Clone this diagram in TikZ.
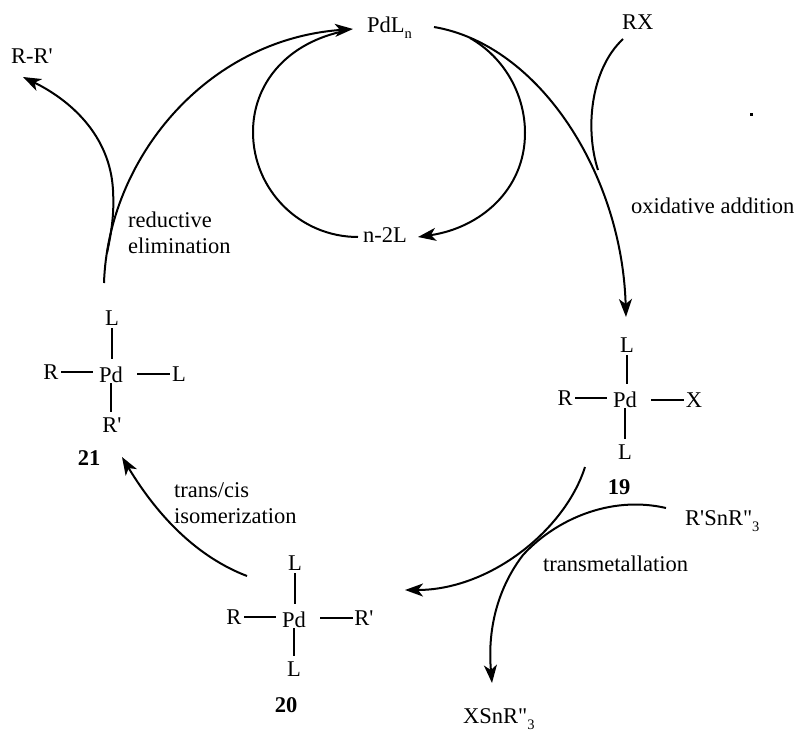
\documentclass[tikz,border=0pt]{standalone}
\usepackage{fontspec}
\setmainfont{Liberation Serif}[Ligatures=TeXOff]
\usetikzlibrary{arrows.meta}
\tikzset{
 lbl/.style={inner sep=0pt,font=\fontsize{22.5}{24}\selectfont,anchor=center},
 txt/.style={lbl,anchor=base west},
 num/.style={lbl,font=\fontsize{22.5}{24}\selectfont\bfseries},
 bond/.style={line width=1.7pt},
 ubond/.style={bond,shorten <=2.5pt,shorten >=8pt},
 dbond/.style={bond,shorten >=5pt},
 lbond/.style={bond,shorten <=2.5pt,shorten >=6pt},
 rbond/.style={bond,shorten <=14pt,shorten >=1.5pt},
 curve/.style={line width=2pt},
 arr/.style={curve,-{Stealth[length=18pt,width=13pt,inset=5pt]}},
}
\newcommand{\subn}[1]{\raisebox{-6pt}{\fontsize{14.5}{14.5}\selectfont #1}}
\begin{document}
\begin{tikzpicture}[x=1pt,y=-1pt]
\useasboundingbox (0,0) rectangle (796,731);
% labels
\node[txt] (pd) at (367,32) {PdL\subn{n}};
\node[txt] (rx) at (622,29) {RX};
\node[txt] (rr) at (11,63) {R-R'};
\node[txt] (n2l) at (363,242) {n-2L};
\node[txt] (ox) at (631,213) {oxidative addition};
\node[txt] (re1) at (128,227) {reductive};
\node[txt] (re2) at (128,253) {elimination};
\node[txt] (tc1) at (174,497) {trans/cis};
\node[txt] (tc2) at (174,523) {isomerization};
\node[txt] (tm) at (543,571) {transmetallation};
\node[txt] (rsn) at (685,525) {R'SnR"\subn{3}};
\node[txt] (xsn) at (463,723) {XSnR"\subn{3}};
\node[fill=black,rectangle,inner sep=0pt,minimum size=3pt] (dot) at (751,114) {};
% complex 21
\node[lbl] (a) at (112,318) {L};
\node[lbl] (b) at (111,375) {Pd};
\node[lbl] (c) at (51,372) {R};
\node[lbl] (d) at (179,374) {L};
\node[lbl] (e) at (112,425) {R'};
\node[num] (n21) at (89,458) {21};
\draw[ubond] (a.south) -- (a.south |- b.north);
\draw[lbond] (c.east) -- (c.east -| b.west);
\draw[rbond] (d.west -| b.east) -- (d.west);
\draw[dbond] (b.south) -- (b.south |- e.north);
% complex 19
\node[lbl] (f) at (627,345) {L};
\node[lbl] (g) at (625,400) {Pd};
\node[lbl] (h) at (565,398) {R};
\node[lbl] (i) at (694,400) {X};
\node[lbl] (j) at (625,452) {L};
\node[num] (n19) at (619,487) {19};
\draw[ubond] (f.south) -- (f.south |- g.north);
\draw[lbond] (h.east) -- (h.east -| g.west);
\draw[rbond] (i.west -| g.east) -- (i.west);
\draw[dbond] (g.south) -- (g.south |- j.north);
% complex 20
\node[lbl] (k) at (295,563) {L};
\node[lbl] (l) at (294,620) {Pd};
\node[lbl] (m) at (234,617) {R};
\node[lbl] (o) at (364,618) {R'};
\node[lbl] (p) at (294,669) {L};
\node[num] (n20) at (286,705) {20};
\draw[ubond] (k.south) -- (k.south |- l.north);
\draw[lbond] (m.east) -- (m.east -| l.west);
\draw[rbond] (o.west -| l.east) -- (o.west);
\draw[dbond] (l.south) -- (l.south |- p.north);
% free ends
\coordinate (s1) at (434,27);
\coordinate (t1) at (626,317);
\coordinate (s2) at (104,283);
\coordinate (t2) at (353,29);
\coordinate (s3) at (585,467);
\coordinate (t3) at (405,590);
\coordinate (s4) at (247,576);
\coordinate (t4) at (122,457);
\coordinate (s5) at (340,32);
\coordinate (t5) at (358,237);
\coordinate (s6) at (470,38);
\coordinate (t6) at (418,237);
\coordinate (s7) at (623,39);
\coordinate (t7) at (598,170);
\coordinate (s8) at (107,253);
\coordinate (t8) at (23,77);
\coordinate (s9) at (666,508);
\coordinate (t9) at (492,683);
% cycle
\draw[arr] (s1) .. controls (540,45) and (622,175) .. (t1);
\draw[arr] (s2) .. controls (108,160) and (205,40) .. (t2);
\draw[arr] (s3) .. controls (565,530) and (490,590) .. (t3);
\draw[arr] (s4) .. controls (200,558) and (160,520) .. (t4);
% side arcs
\draw[curve] (s5) .. controls (285,45) and (253,85) .. (253,132) .. controls (253,190) and (300,237) .. (t5);
\draw[arr] (s6) .. controls (505,58) and (525,95) .. (525,133) .. controls (525,190) and (480,228) .. (t6);
\draw[curve] (s7) .. controls (590,70) and (585,130) .. (t7);
\draw[arr] (s8) .. controls (113,225) and (114,210) .. (113,190) .. controls (110,135) and (70,100) .. (t8);
\draw[arr] (s9) .. controls (610,495) and (555,520) .. (523,555) .. controls (500,585) and (487,625) .. (t9);
\end{tikzpicture}
\end{document}
